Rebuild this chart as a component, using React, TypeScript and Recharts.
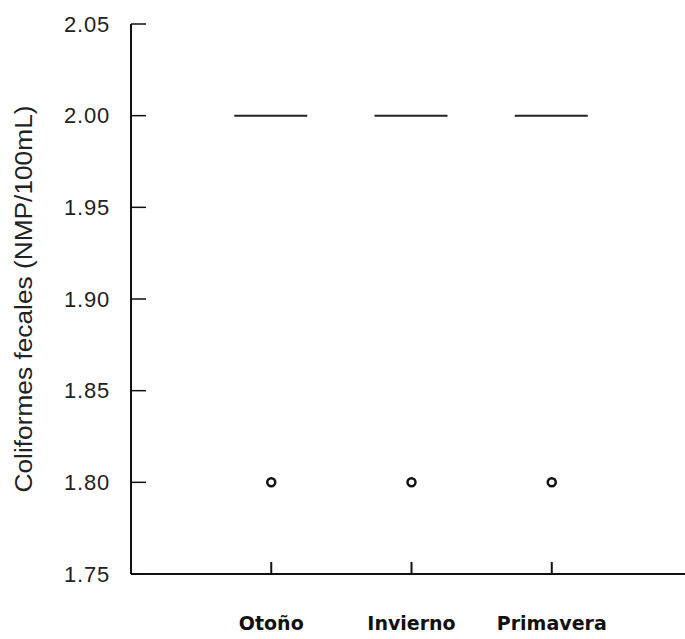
import React from 'react';
import { ComposedChart, Scatter, XAxis, YAxis } from 'recharts';

const seasons = ['Otoño', 'Invierno', 'Primavera'];
const medians = [2.0, 2.0, 2.0];
const outliers = [1.8, 1.8, 1.8];
const yTicks = [1.75, 1.8, 1.85, 1.9, 1.95, 2.0, 2.05];

const medianData = seasons.map((s, i) => ({ x: i + 1, y: medians[i], name: s }));
const outlierData = seasons.map((s, i) => ({ x: i + 1, y: outliers[i], name: s }));

const Y_MARGIN = 20;
const X_MARGIN = 10;

const YTick = (props: any) => {
  const { x, y, payload } = props;
  const axisX = x + Y_MARGIN;
  return (
    <g>
      <line x1={axisX} x2={axisX + 15} y1={y} y2={y} stroke="#111" strokeWidth={1.5} />
      <text x={axisX - 21} y={y} textAnchor="end" dominantBaseline="central"
        fontFamily="Liberation Sans, Arial, sans-serif" fontSize={22} fill="#222" letterSpacing={0.8}>
        {payload.value.toFixed(2)}
      </text>
    </g>
  );
};

const XTick = (props: any) => {
  const { x, y, payload } = props;
  const axisY = y - X_MARGIN;
  return (
    <g>
      <line x1={x} x2={x} y1={axisY} y2={axisY - 12} stroke="#111" strokeWidth={2} />
      <text x={x} y={axisY + 49} textAnchor="middle" dominantBaseline="central"
        fontFamily="DejaVu Sans, Verdana, sans-serif" fontWeight="bold" fontSize={19} fill="#111">
        {seasons[payload.value - 1]}
      </text>
    </g>
  );
};

const MedianLine = (props: any) => {
  const { cx, cy } = props;
  return <line x1={cx - 37} x2={cx + 36} y1={cy} y2={cy} stroke="#222" strokeWidth={2} />;
};

const Outlier = (props: any) => {
  const { cx, cy } = props;
  return <circle cx={cx} cy={cy} r={4} fill="#fff" stroke="#111" strokeWidth={2.5} />;
};

const YLabel = (props: any) => {
  const vb = props.viewBox || {};
  const cy = vb.y + vb.height / 2;
  return (
    <text x={32} y={cy} transform={`rotate(-90, 32, ${cy})`} textAnchor="middle"
      fontFamily="Liberation Sans, Arial, sans-serif" fontSize={23} fill="#222"
      textLength={387} lengthAdjust="spacingAndGlyphs">
      Coliformes fecales (NMP/100mL)
    </text>
  );
};

export default function App() {
  return (
    <div style={{ position: 'absolute', left: 0, top: 0, width: 685, height: 639, background: '#fff' }}>
      <ComposedChart width={685} height={639} margin={{ top: 24, right: 0, bottom: 15, left: 71 }}>
        <XAxis type="number" dataKey="x" domain={[0, 3.95]} ticks={[1, 2, 3]} allowDataOverflow
          axisLine={{ stroke: '#111', strokeWidth: 2 }} tickLine={false} tickSize={0} tickMargin={X_MARGIN}
          tick={<XTick />} height={50} />
        <YAxis type="number" dataKey="y" domain={[1.75, 2.05]} ticks={yTicks} allowDataOverflow
          axisLine={{ stroke: '#111', strokeWidth: 2 }} tickLine={false} tickSize={0} tickMargin={Y_MARGIN}
          tick={<YTick />} width={60} label={<YLabel />} />
        <Scatter data={medianData} shape={<MedianLine />} isAnimationActive={false} />
        <Scatter data={outlierData} shape={<Outlier />} isAnimationActive={false} />
      </ComposedChart>
    </div>
  );
}
